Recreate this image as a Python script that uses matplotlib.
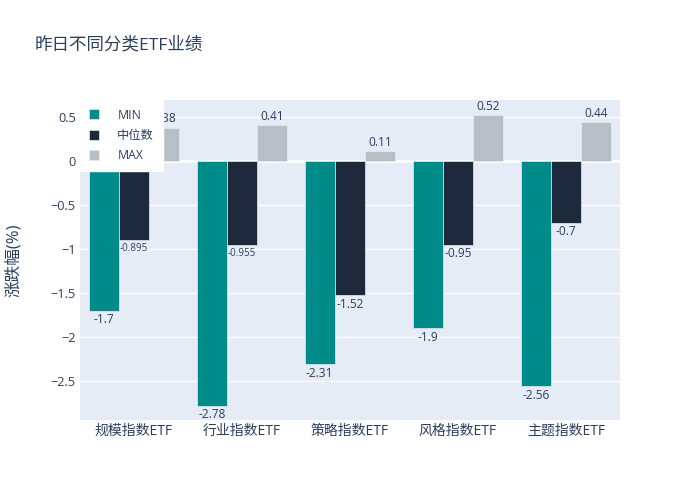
import numpy as np
import matplotlib.pyplot as plt
from matplotlib.ticker import FuncFormatter

plt.rcParams['font.family'] = ['Open Sans', 'Noto Sans CJK SC', 'DejaVu Sans']

# data
categories = ['规模指数ETF', '行业指数ETF', '策略指数ETF', '风格指数ETF', '主题指数ETF']
min_vals = [-1.7, -2.78, -2.31, -1.9, -2.56]
median_vals = [-0.895, -0.955, -1.52, -0.95, -0.7]
max_vals = [0.38, 0.41, 0.11, 0.52, 0.44]
series_names = ['MIN', '中位数', 'MAX']
series_colors = ['#008B8B', '#1E293B', '#B8BEC6']

text_color = '#2a3f5f'
bg_color = '#E5ECF6'

fig = plt.figure(figsize=(7, 5), dpi=100)
ax = fig.add_axes([80 / 700, 80 / 500, 540 / 700, 320 / 500])
ax.set_facecolor(bg_color)

x = np.arange(len(categories))
width = 0.28
all_series = [min_vals, median_vals, max_vals]

for i in range(len(all_series)):
    vals = all_series[i]
    pos = x + (i - 1) * width
    ax.bar(pos, vals, width, color=series_colors[i], label=series_names[i],
           edgecolor=bg_color, linewidth=0.5, zorder=2)
    # value labels outside the bar end, shrunk when wider than the bar
    for p, v in zip(pos, vals):
        label = str(v)
        size = 7.0 if len(label) > 5 else 8.6
        if v >= 0:
            ax.annotate(label, (p, v), xytext=(0, 1.5), textcoords='offset points',
                        ha='center', va='bottom', fontsize=size, color=text_color, zorder=3)
        else:
            ax.annotate(label, (p, v), xytext=(0, -2), textcoords='offset points',
                        ha='center', va='top', fontsize=size, color=text_color, zorder=3)

# grid and zero line
ax.set_yticks(np.arange(-2.5, 0.51, 0.5))
ax.yaxis.grid(True, color='white', linewidth=1, zorder=0)
ax.set_axisbelow(True)
ax.axhline(0, color='white', linewidth=2, zorder=1)

ax.set_xlim(-0.5, len(categories) - 0.5)
ax.set_ylim(-2.943, 0.693)
ax.set_xticks(x)
ax.set_xticklabels(categories)
ax.yaxis.set_major_formatter(FuncFormatter(lambda v, p: ('%g' % round(v, 2)).replace('-', '\u2212')))
ax.tick_params(axis='both', length=0, labelsize=10, colors=text_color)
ax.tick_params(axis='y', pad=3, labelsize=9.2)
ax.tick_params(axis='x', pad=3)
for s in ax.spines.values():
    s.set_visible(False)

leg = ax.legend(loc='upper left', bbox_to_anchor=(0, 1), borderaxespad=0,
                frameon=True, fancybox=False, fontsize=8.8, handlelength=0.85,
                handleheight=0.85, handletextpad=1.5, labelspacing=0.6,
                borderpad=0.7)
leg.get_frame().set_facecolor('white')
leg.get_frame().set_edgecolor('white')
leg.get_frame().set_alpha(1)
for t in leg.get_texts():
    t.set_color(text_color)

fig.text(35 / 700, 1 - 45 / 500, '昨日不同分类ETF业绩', fontsize=12.6,
         color=text_color, ha='left', va='center')
fig.text(14 / 700, 1 - 260 / 500, '涨跌幅(%)', fontsize=12, color=text_color,
         rotation=90, ha='center', va='center')

plt.savefig('out.png', dpi=100)
